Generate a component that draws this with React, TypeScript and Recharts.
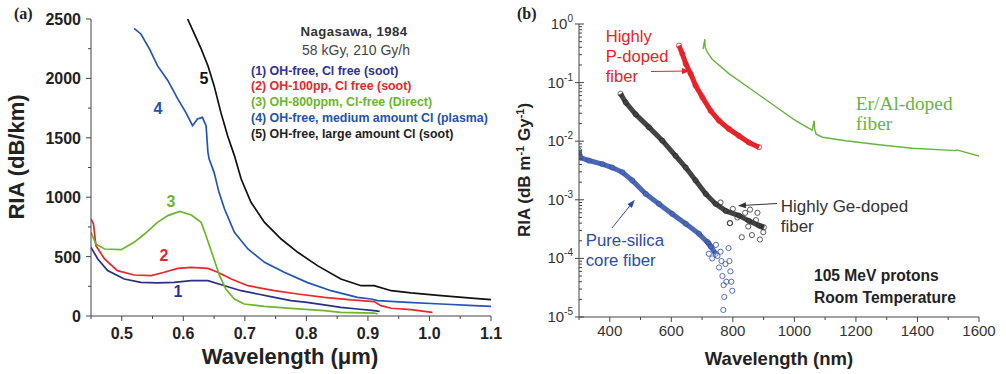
import React from "react";
import { LineChart, Line, XAxis, YAxis } from "recharts";

// ---- panel (a): Nagasawa 1984, RIA (dB/km) vs wavelength (µm)
const c1Wl = [0.45, 0.461, 0.477, 0.504, 0.531, 0.558, 0.585, 0.613, 0.64, 0.667, 0.694, 0.721, 0.748, 0.775, 0.801, 0.829, 0.856, 0.883, 0.91, 0.919];
const c1Ria = [578, 480, 382, 311, 283, 278, 283, 297, 297, 255, 213, 185, 157, 129, 115, 93, 73, 59, 45, 39];

const c2Wl = [0.45, 0.454, 0.458, 0.472, 0.493, 0.52, 0.548, 0.569, 0.591, 0.613, 0.64, 0.656, 0.678, 0.705, 0.748, 0.786, 0.829, 0.873, 0.91, 0.921, 0.938, 0.97, 0.992, 1.005];
const c2Ria = [817, 775, 592, 480, 382, 345, 340, 368, 401, 410, 401, 368, 311, 255, 213, 185, 157, 135, 121, 87, 65, 53, 39, 31];

const c3Wl = [0.45, 0.458, 0.472, 0.499, 0.52, 0.537, 0.558, 0.575, 0.594, 0.613, 0.629, 0.637, 0.648, 0.659, 0.669, 0.683, 0.699, 0.732, 0.775, 0.829, 0.856, 0.91, 0.916];
const c3Ria = [704, 606, 564, 558, 620, 690, 788, 845, 881, 850, 788, 676, 508, 340, 227, 143, 101, 81, 65, 45, 31, 25, 17];

const c4Wl = [0.52, 0.531, 0.545, 0.558, 0.575, 0.591, 0.604, 0.615, 0.623, 0.631, 0.637, 0.64, 0.642, 0.65, 0.658, 0.667, 0.683, 0.705, 0.732, 0.764, 0.801, 0.84, 0.883, 0.905, 0.916, 0.965, 1.019, 1.073, 1.1];
const c4Ria = [2421, 2374, 2248, 2107, 1981, 1827, 1714, 1602, 1658, 1672, 1602, 1378, 1322, 1209, 1041, 901, 704, 564, 452, 368, 283, 213, 157, 143, 129, 115, 101, 87, 81];

const c5Wl = [0.607, 0.618, 0.629, 0.64, 0.65, 0.661, 0.672, 0.683, 0.694, 0.71, 0.732, 0.759, 0.786, 0.818, 0.856, 0.889, 0.91, 0.938, 0.97, 1.019, 1.073, 1.1];
const c5Ria = [2500, 2374, 2248, 2107, 1939, 1714, 1518, 1350, 1153, 957, 788, 648, 536, 424, 311, 255, 255, 213, 194, 171, 149, 137];

const aXTicks = [0.45, 0.5, 0.55, 0.6, 0.65, 0.7, 0.75, 0.8, 0.85, 0.9, 0.95, 1.0, 1.05, 1.1];
const aXLabels = [0.5, 0.6, 0.7, 0.8, 0.9, 1.0, 1.1];
const aYTicks = [0, 250, 500, 750, 1000, 1250, 1500, 1750, 2000, 2250, 2500];
const aYLabels = [0, 500, 1000, 1500, 2000, 2500];

const legendA = [
  { text: "(1) OH-free, Cl free (soot)", color: "#2e3192" },
  { text: "(2) OH-100pp, Cl free (soot)", color: "#e8262b" },
  { text: "(3) OH-800ppm, Cl-free (Direct)", color: "#6cb52d" },
  { text: "(4) OH-free, medium amount Cl (plasma)", color: "#2352a8" },
  { text: "(5) OH-free, large amount Cl (soot)", color: "#222" },
];

// ---- panel (b): 105 MeV protons, RIA (dB/m/Gy) vs wavelength (nm)
const erWl = [703, 709, 710, 717, 733, 788, 842, 896, 950, 1004, 1058, 1064, 1066, 1071, 1091, 1167, 1275, 1383, 1524, 1528, 1600];
const erRia = [0.372, 0.55, 0.398, 0.331, 0.251, 0.141, 0.0891, 0.0562, 0.0355, 0.0224, 0.0155, 0.0224, 0.0158, 0.0132, 0.0117, 0.0102, 0.0087, 0.0076, 0.0069, 0.0071, 0.0056];

const pWl = [625, 636, 647, 663, 679, 701, 728, 755, 787, 820, 852, 885];
const pRia = [0.427, 0.309, 0.209, 0.141, 0.0891, 0.0562, 0.0331, 0.0224, 0.0162, 0.0123, 0.0095, 0.0079];

const geWl = [435, 452, 484, 527, 571, 614, 647, 679, 712, 744, 777, 820, 852, 885, 901];
const geRia = [0.0646, 0.0457, 0.0288, 0.0174, 0.0102, 0.00562, 0.00355, 0.00214, 0.00126, 0.000851, 0.000646, 0.000537, 0.000437, 0.000363, 0.000339];
const geTailWl = [760, 790, 791, 800, 815, 829, 840, 850, 856, 862, 875, 880, 888, 893, 899];
const geTailRia = [0.0009, 0.0004, 0.0004, 0.0007, 0.0005, 0.00023, 0.0006, 0.00035, 0.00068, 0.00025, 0.00045, 0.0006, 0.00021, 0.00035, 0.00028];

const psWl = [300, 305, 332, 376, 408, 441, 473, 517, 560, 603, 647, 690, 722, 744];
const psRia = [0.00692, 0.00525, 0.00468, 0.00407, 0.00355, 0.00295, 0.00214, 0.00126, 0.000851, 0.000575, 0.000389, 0.000263, 0.000178, 0.00012];
const psTailWl = [718, 722, 728, 733, 745, 750, 755, 760, 763, 766, 769, 770, 772, 776, 779, 786, 789, 792, 795, 798];
const psTailRia = [0.00019, 0.00012, 0.00016, 0.0001, 0.00017, 0.00011, 0.00007, 0.00013, 0.00009, 0.00005, 0.0000132, 0.000035, 0.000022, 0.00008, 0.00004, 0.00015, 0.00009, 0.00006, 0.00004, 0.000028];

const bXTicks = [300, 400, 500, 600, 700, 800, 900, 1000, 1100, 1200, 1300, 1400, 1500, 1600];
const bXLabels = [400, 600, 800, 1000, 1200, 1400, 1600];
const bYMajor = [1e-5, 1e-4, 1e-3, 1e-2, 1e-1, 1];
const bYTicks = [
  ...bYMajor,
  ...bYMajor.slice(0, 5).flatMap((d) => [2, 3, 4, 5, 6, 7, 8, 9].map((m) => d * m)),
];

const zip = (xs: number[], ys: number[]) => xs.map((x, i) => ({ x, y: ys[i] }));

const SANS = "'Liberation Sans', Arial, sans-serif";
const SERIF = "'Liberation Serif', 'Times New Roman', serif";

const AXTick = ({ x, y, payload }: any) => {
  const v = payload.value;
  const major = aXLabels.includes(v);
  return (
    <g>
      <line x1={x} x2={x} y1={y} y2={y + (major ? 5 : 3)} stroke="#444" />
      {major && (
        <text x={x} y={y + 23} textAnchor="middle" fontSize={16} fontWeight="bold" fill="#222" fontFamily={SANS}>
          {v.toFixed(1)}
        </text>
      )}
    </g>
  );
};

const AYTick = ({ x, y, payload }: any) => {
  const v = payload.value;
  const major = aYLabels.includes(v);
  return (
    <g>
      <line x1={x - (major ? 5 : 3)} x2={x} y1={y} y2={y} stroke="#444" />
      {major && (
        <text x={x - 10} y={y + 6} textAnchor="end" fontSize={16} fontWeight="bold" fill="#222" fontFamily={SANS}>
          {v}
        </text>
      )}
    </g>
  );
};

const BXTick = ({ x, y, payload }: any) => {
  const v = payload.value;
  const major = bXLabels.includes(v);
  return (
    <g>
      <line x1={x} x2={x} y1={y} y2={y + (major ? 5 : 3)} stroke="#444" />
      {major && (
        <text x={x} y={y + 19} textAnchor="middle" fontSize={15} fill="#333" fontFamily={SANS}>
          {v}
        </text>
      )}
    </g>
  );
};

const BYTick = ({ x, y, payload }: any) => {
  const v = payload.value;
  const lg = Math.log10(v);
  const e = Math.round(lg);
  if (Math.abs(lg - e) > 1e-6) {
    return <line x1={x} x2={x + 3} y1={y} y2={y} stroke="#444" />;
  }
  return (
    <g>
      <line x1={x - 4} x2={x + 5} y1={y} y2={y} stroke="#444" />
      <text x={x - 6} y={y + 5} textAnchor="end" fontSize={15} fill="#333" fontFamily={SANS}>
        10<tspan dy={-7} fontSize={10}>{e}</tspan>
      </text>
    </g>
  );
};

const Txt = ({ left, top, size, color = "#222", bold = false, family = SANS, lh, children, extra }: any) => (
  <div
    style={{
      position: "absolute",
      left,
      top,
      fontSize: size,
      lineHeight: lh ? `${lh}px` : 1,
      color,
      fontWeight: bold ? "bold" : "normal",
      fontFamily: family,
      whiteSpace: "nowrap",
      ...extra,
    }}
  >
    {children}
  </div>
);

function PanelA() {
  return (
    <div style={{ position: "absolute", left: 0, top: 0, width: 510, height: 374 }}>
      <LineChart width={510} height={374} margin={{ top: 19, right: 19, left: 0, bottom: 0 }}>
        <XAxis dataKey="x" type="number" domain={[0.45, 1.1]} ticks={aXTicks} interval={0} allowDataOverflow
          tick={<AXTick />} tickSize={0} tickMargin={0} tickLine={false} height={58} stroke="#444" />
        <XAxis xAxisId="top" orientation="top" type="number" domain={[0.45, 1.1]} tick={false} tickLine={false} height={0} stroke="#888" />
        <YAxis type="number" domain={[0, 2500]} ticks={aYTicks} interval={0} allowDataOverflow
          tick={<AYTick />} tickSize={0} tickMargin={0} tickLine={false} width={91} stroke="#444" />
        <YAxis yAxisId="right" orientation="right" type="number" domain={[0, 2500]} tick={false} tickLine={false} width={0} stroke="#888" />
        <Line data={zip(c1Wl, c1Ria)} dataKey="y" stroke="#2b2e83" strokeWidth={1.7} dot={false} isAnimationActive={false} />
        <Line data={zip(c2Wl, c2Ria)} dataKey="y" stroke="#e8262b" strokeWidth={1.7} dot={false} isAnimationActive={false} />
        <Line data={zip(c3Wl, c3Ria)} dataKey="y" stroke="#6cb52d" strokeWidth={1.7} dot={false} isAnimationActive={false} />
        <Line data={zip(c4Wl, c4Ria)} dataKey="y" stroke="#2255b3" strokeWidth={1.7} dot={false} isAnimationActive={false} />
        <Line data={zip(c5Wl, c5Ria)} dataKey="y" stroke="#111" strokeWidth={1.7} dot={false} isAnimationActive={false} />
      </LineChart>

      <Txt left={14} top={6} size={16} bold family={SERIF}>(a)</Txt>
      <Txt left={17} top={157} size={22} bold extra={{ transform: "translate(-50%,-50%) rotate(-90deg)" }}>RIA (dB/km)</Txt>
      <Txt left={290} top={357} size={22} bold extra={{ transform: "translate(-50%,-50%)" }}>Wavelength (μm)</Txt>

      <Txt left={354} top={32} size={13.2} bold color="#333" extra={{ transform: "translate(-50%,-50%)", letterSpacing: 0.4 }}>Nagasawa, 1984</Txt>
      <Txt left={356} top={50} size={14} color="#444" extra={{ transform: "translate(-50%,-50%)" }}>58 kGy, 210 Gy/h</Txt>
      {legendA.map((l, i) => (
        <Txt key={i} left={251} top={64.5 + i * 15.8} size={12.4} bold color={l.color}>{l.text}</Txt>
      ))}

      <Txt left={178} top={292} size={16} bold color="#2e3192" extra={{ transform: "translate(-50%,-50%)" }}>1</Txt>
      <Txt left={164} top={256} size={16} bold color="#e8262b" extra={{ transform: "translate(-50%,-50%)" }}>2</Txt>
      <Txt left={171} top={202} size={16} bold color="#6cb52d" extra={{ transform: "translate(-50%,-50%)" }}>3</Txt>
      <Txt left={158} top={109} size={16} bold color="#2255b3" extra={{ transform: "translate(-50%,-50%)" }}>4</Txt>
      <Txt left={204} top={79} size={16} bold color="#111" extra={{ transform: "translate(-50%,-50%)" }}>5</Txt>
    </div>
  );
}

function PanelB() {
  const hollow = (c: string) => ({ r: 2.6, fill: "none", stroke: c, strokeWidth: 0.8 });
  return (
    <div style={{ position: "absolute", left: 500, top: 0, width: 506, height: 374 }}>
      <LineChart width={506} height={374} margin={{ top: 24, right: 27, left: 0, bottom: 0 }}>
        <XAxis dataKey="x" type="number" domain={[300, 1600]} ticks={bXTicks} interval={0} allowDataOverflow
          tick={<BXTick />} tickSize={0} tickMargin={0} tickLine={false} height={57} stroke="#444" />
        <XAxis xAxisId="top" orientation="top" type="number" domain={[300, 1600]} tick={false} tickLine={false} height={0} stroke="#666" />
        <YAxis type="number" scale="log" domain={[1e-5, 1]} ticks={bYTicks} interval={0} allowDataOverflow
          tick={<BYTick />} tickSize={0} tickMargin={0} tickLine={false} width={79} stroke="#444" />
        <YAxis yAxisId="right" orientation="right" type="number" scale="log" domain={[1e-5, 1]} tick={false} tickLine={false} width={0} stroke="#666" />

        <Line data={zip(psWl, psRia)} dataKey="y" stroke="#2b4ca8" strokeWidth={5} strokeOpacity={0.85} dot={hollow("#2b4ca8")} isAnimationActive={false} />
        <Line data={zip(psTailWl, psTailRia)} dataKey="y" stroke="none" dot={hollow("#2b4ca8")} isAnimationActive={false} />
        <Line data={zip(geWl, geRia)} dataKey="y" stroke="#222" strokeWidth={5} strokeOpacity={0.85} dot={hollow("#222")} isAnimationActive={false} />
        <Line data={zip(geTailWl, geTailRia)} dataKey="y" stroke="none" dot={hollow("#333")} isAnimationActive={false} />
        <Line data={zip(pWl, pRia)} dataKey="y" stroke="#e52329" strokeWidth={5} dot={hollow("#e52329")} isAnimationActive={false} />
        <Line data={zip(erWl, erRia)} dataKey="y" stroke="#6ab23e" strokeWidth={1.4} dot={false} isAnimationActive={false} />
      </LineChart>

      <Txt left={17} top={6} size={16} bold family={SERIF}>(b)</Txt>
      <Txt left={24} top={170} size={17} bold extra={{ transform: "translate(-50%,-50%) rotate(-90deg)" }}>
        RIA (dB m<sup style={{ fontSize: 11 }}>-1</sup> Gy<sup style={{ fontSize: 11 }}>-1</sup>)
      </Txt>
      <Txt left={279} top={359} size={18.5} bold extra={{ transform: "translate(-50%,-50%)" }}>Wavelength (nm)</Txt>

      <Txt left={105.7} top={27} size={16.6} lh={20} color="#e52329">Highly<br />P-doped<br />fiber</Txt>
      <Txt left={355.7} top={94} size={19.4} lh={20} color="#6ab23e" family={SERIF}>Er/Al-doped<br />fiber</Txt>
      <Txt left={280.7} top={196.5} size={17} lh={20.6} color="#333">Highly Ge-doped<br />fiber</Txt>
      <Txt left={85.7} top={230.7} size={16.8} lh={20} color="#2b4ca8">Pure-silica<br />core fiber</Txt>
      <Txt left={314} top={265} size={15.6} lh={22.3} bold color="#222">105 MeV protons<br />Room Temperature</Txt>

      <svg width={506} height={374} style={{ position: "absolute", left: 0, top: 0, pointerEvents: "none" }}>
        <defs>
          <marker id="arR" markerWidth="8" markerHeight="6" refX="7" refY="3" orient="auto">
            <path d="M0,0 L8,3 L0,6 z" fill="#e52329" />
          </marker>
          <marker id="arK" markerWidth="8" markerHeight="6" refX="7" refY="3" orient="auto">
            <path d="M0,0 L8,3 L0,6 z" fill="#333" />
          </marker>
          <marker id="arB" markerWidth="8" markerHeight="6" refX="7" refY="3" orient="auto">
            <path d="M0,0 L8,3 L0,6 z" fill="#2b4ca8" />
          </marker>
        </defs>
        <line x1={151} y1={71.5} x2={189} y2={71} stroke="#e52329" strokeWidth={1} markerEnd="url(#arR)" />
        <line x1={277} y1={203.5} x2={239} y2={205.7} stroke="#333" strokeWidth={1} markerEnd="url(#arK)" />
        <line x1={112} y1={228} x2={134} y2={200.7} stroke="#2b4ca8" strokeWidth={1} markerEnd="url(#arB)" />
      </svg>
    </div>
  );
}

export default function App() {
  return (
    <div style={{ position: "absolute", left: 0, top: 0, width: 1006, height: 374, background: "#fff", fontFamily: SANS, overflow: "hidden" }}>
      <PanelA />
      <PanelB />
    </div>
  );
}
